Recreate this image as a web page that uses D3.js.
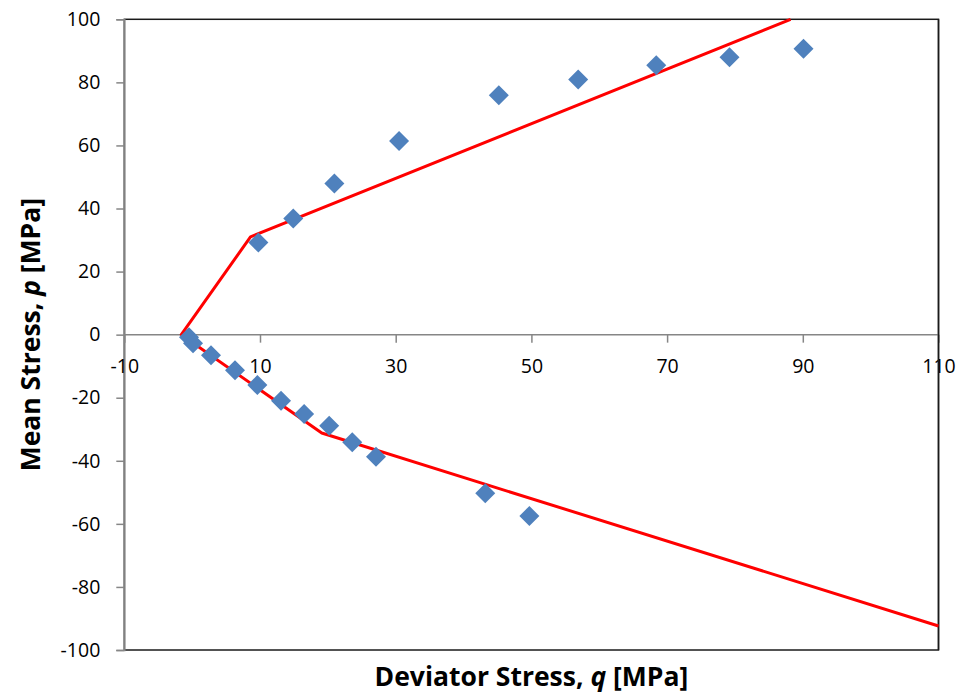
<!DOCTYPE html>
<html>
<head>
<meta charset="utf-8">
<script src="https://cdn.jsdelivr.net/npm/d3@7"></script>
<style>
  html, body { margin: 0; padding: 0; background: #fff; }
  svg { display: block; font-family: "Open Sans", "Liberation Sans", sans-serif; }
</style>
</head>
<body>
<svg id="chart" width="963" height="695"></svg>
<script>
// Test data: deviator stress q and mean stress p (MPa)
const qUpper = [20.96, 30.5, 45.2, 56.9, 68.4, 79.2, 90.1, 9.76, 14.9];
const pUpper = [47.9, 61.4, 75.9, 80.9, 85.4, 88.0, 90.7, 29.2, 36.8];
const qLower = [-0.46, 0.13, 2.78, 6.32, 9.61, 13.1, 16.5, 20.2, 23.6, 27.1, 43.2, 49.7];
const pLower = [-0.8, -2.7, -6.5, -11.3, -16.0, -21.0, -25.2, -28.9, -34.1, -38.7, -50.3, -57.5];

// Failure envelope (piecewise linear)
const envQ = [88.2, 8.6, -1.6, 19.1, 110];
const envP = [100, 31.0, 0, -31.2, -92.4];

// Axis ticks
const xTicks = [-10, 10, 30, 50, 70, 90, 110];
const yTicks = [-100, -80, -60, -40, -20, 0, 20, 40, 60, 80, 100];

const svg = d3.select("#chart");
const plotL = 124.3, plotR = 938.5, plotT = 19.3, plotB = 650;

const x = d3.scaleLinear().domain([-10, 110]).range([plotL, plotR]);
const y = d3.scaleLinear().domain([-100, 100]).range([plotB, plotT]);

// Plain hyphen-minus for negative tick labels
const fmt = d => String(d);

// Plot frame
svg.append("rect")
  .attr("x", plotL).attr("y", plotT)
  .attr("width", plotR - plotL).attr("height", plotB - plotT)
  .attr("fill", "none").attr("stroke", "#1a1a1a").attr("stroke-width", 1.5);

// Vertical axis at q = -10
const yAxis = svg.append("g")
  .attr("transform", `translate(${plotL},0)`)
  .call(d3.axisLeft(y).tickValues(yTicks).tickSize(8).tickPadding(16).tickFormat(fmt));
yAxis.selectAll("path, line").attr("stroke", "#868686").attr("stroke-width", 1.5);
yAxis.selectAll("text").attr("font-size", 19.5).attr("fill", "#000")
  .attr("font-family", "'Open Sans', sans-serif");

// Horizontal axis crossing at p = 0
const xAxis = svg.append("g")
  .attr("transform", `translate(0,${y(0)})`)
  .call(d3.axisBottom(x).tickValues(xTicks).tickSize(8).tickPadding(17).tickFormat(fmt));
xAxis.select("path.domain").attr("d", `M${plotL},0H${plotR}`);
xAxis.selectAll("path, line").attr("stroke", "#868686").attr("stroke-width", 1.5);
xAxis.selectAll("text").attr("font-size", 19.5).attr("fill", "#000")
  .attr("font-family", "'Open Sans', sans-serif");

// Re-draw right frame edge over the axis end
svg.append("line")
  .attr("x1", plotR).attr("x2", plotR).attr("y1", plotT).attr("y2", plotB)
  .attr("stroke", "#1a1a1a").attr("stroke-width", 1.5);

// Envelope line
const envData = envQ.map((q, i) => [q, envP[i]]);
svg.append("path")
  .datum(envData)
  .attr("d", d3.line().x(d => x(d[0])).y(d => y(d[1])))
  .attr("fill", "none").attr("stroke", "#ff0000").attr("stroke-width", 3)
  .attr("stroke-linejoin", "round");

// Data markers (diamonds)
const pts = qUpper.map((q, i) => [q, pUpper[i]])
  .concat(qLower.map((q, i) => [q, pLower[i]]));
const diamond = d3.symbol().type(d3.symbolSquare).size(200);
svg.append("g").selectAll("path")
  .data(pts)
  .join("path")
  .attr("d", diamond)
  .attr("transform", d => `translate(${x(d[0])},${y(d[1])}) rotate(45)`)
  .attr("fill", "#4f81bd");

// Axis titles
const xt = svg.append("text")
  .attr("x", (plotL + plotR) / 2).attr("y", 686)
  .attr("text-anchor", "middle")
  .attr("font-size", 26.5).attr("font-weight", "bold");
xt.append("tspan").text("Deviator Stress, ");
xt.append("tspan").attr("font-style", "italic").text("q");
xt.append("tspan").text(" [MPa]");

const yt = svg.append("text")
  .attr("transform", `translate(40,${(plotT + plotB) / 2}) rotate(-90)`)
  .attr("text-anchor", "middle")
  .attr("font-size", 26.5).attr("font-weight", "bold");
yt.append("tspan").text("Mean Stress, ");
yt.append("tspan").attr("font-style", "italic").text("p");
yt.append("tspan").text(" [MPa]");
</script>
</body>
</html>
